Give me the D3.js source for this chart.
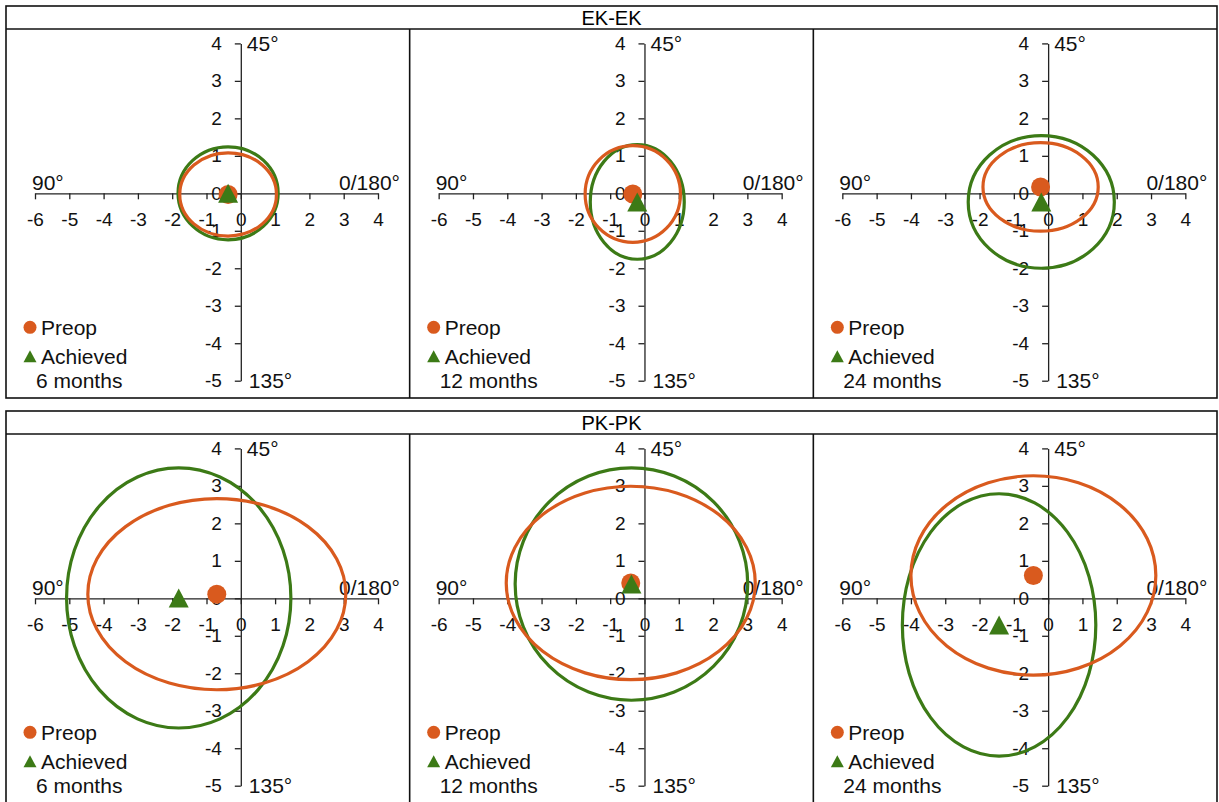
<!DOCTYPE html>
<html>
<head>
<meta charset="utf-8">
<script src="https://cdn.jsdelivr.net/npm/d3@7/dist/d3.min.js"></script>
<style>
  html, body { margin: 0; padding: 0; background: #fff; }
  svg { display: block; }
</style>
</head>
<body>
<svg id="chart" width="1219" height="802"></svg>
<script>
// Double-angle vector plots of astigmatism: centroid (x, y) and SD ellipse (rx, ry), in dioptres
const groups = ["EK-EK", "PK-PK"];
const periods = ["6 months", "12 months", "24 months"];
const seriesNames = ["Preop", "Achieved"];

const xTicks = [-6, -5, -4, -3, -2, -1, 0, 1, 2, 3, 4];
const yTicks = [4, 3, 2, 1, 0, -1, -2, -3, -4, -5];
const axisLabels = { left: "90°", right: "0/180°", top: "45°", bottom: "135°" };

// EK-EK, one entry per period
const ekPreopCentroid   = [[-0.37, -0.03], [-0.34, -0.02], [-0.22, 0.17]];
const ekPreopEllipse    = [[1.41, 1.11], [1.39, 1.29], [1.68, 1.18]];
const ekAchievedCentroid = [[-0.37, 0.00], [-0.21, -0.23], [-0.20, -0.23]];
const ekAchievedEllipse  = [[1.46, 1.24], [1.37, 1.53], [2.13, 1.77]];

// PK-PK, one entry per period
const pkPreopCentroid   = [[-0.70, 0.11], [-0.40, 0.41], [-0.43, 0.61]];
const pkPreopEllipse    = [[3.76, 2.55], [3.63, 2.58], [3.57, 2.66]];
const pkAchievedCentroid = [[-1.81, 0.01], [-0.38, 0.38], [-1.43, -0.71]];
const pkAchievedEllipse  = [[3.27, 3.47], [3.39, 3.10], [2.82, 3.50]];

const groupData = [
  { preopC: ekPreopCentroid, preopE: ekPreopEllipse, achC: ekAchievedCentroid, achE: ekAchievedEllipse },
  { preopC: pkPreopCentroid, preopE: pkPreopEllipse, achC: pkAchievedCentroid, achE: pkAchievedEllipse }
];

const ORANGE = "#D95A1E";
const GREEN = "#3C7A16";
const FONT = "'Liberation Sans', Arial, Helvetica, sans-serif";

const svg = d3.select("#chart");

const boxLeft = 6, boxRight = 1217;
const groupTop = [6, 411];
const groupHeight = 392;
const titleHeight = 23;
const cellW = (boxRight - boxLeft) / 3;

const triPath = (cx, cy, w, h) =>
  `M${cx},${cy - h / 2}L${cx + w / 2},${cy + h / 2}L${cx - w / 2},${cy + h / 2}Z`;

groups.forEach((gName, gi) => {
  const top = groupTop[gi];
  const innerTop = top + titleHeight;
  const bottom = top + groupHeight;
  const g = svg.append("g");

  // frame, title row and column dividers
  g.append("rect")
    .attr("x", boxLeft).attr("y", top)
    .attr("width", boxRight - boxLeft).attr("height", groupHeight)
    .attr("fill", "none").attr("stroke", "#111").attr("stroke-width", 1.6);
  g.append("line")
    .attr("x1", boxLeft).attr("x2", boxRight)
    .attr("y1", innerTop).attr("y2", innerTop)
    .attr("stroke", "#111").attr("stroke-width", 1.6);
  [1, 2].forEach(i => {
    g.append("line")
      .attr("x1", boxLeft + i * cellW).attr("x2", boxLeft + i * cellW)
      .attr("y1", innerTop).attr("y2", bottom)
      .attr("stroke", "#111").attr("stroke-width", 1.6);
  });
  g.append("text")
    .attr("x", (boxLeft + boxRight) / 2).attr("y", top + titleHeight / 2)
    .attr("dy", "0.35em")
    .attr("text-anchor", "middle")
    .attr("font-family", FONT).attr("font-size", 20)
    .text(gName);

  const d = groupData[gi];

  periods.forEach((period, pi) => {
    const cellX = boxLeft + pi * cellW;
    const x = d3.scaleLinear().domain([-6, 4]).range([cellX + 29, cellX + 372]);
    const y = d3.scaleLinear().domain([4, -5]).range([innerTop + 14.4, innerTop + 351.7]);
    const cell = g.append("g");

    // x axis through the origin
    const xAxis = cell.append("g")
      .attr("transform", `translate(0,${y(0)})`)
      .call(d3.axisBottom(x).tickValues(xTicks).tickFormat(d3.format("d"))
        .tickSize(6).tickSizeOuter(0).tickPadding(13));
    // y axis through the origin
    const yAxis = cell.append("g")
      .attr("transform", `translate(${x(0)},0)`)
      .call(d3.axisLeft(y).tickValues(yTicks).tickFormat(d3.format("d"))
        .tickSize(6).tickSizeOuter(0).tickPadding(13));
    [xAxis, yAxis].forEach(a => {
      a.selectAll("path, line").attr("stroke", "#222").attr("stroke-width", 1.3);
      a.selectAll("text")
        .attr("font-family", FONT).attr("font-size", 19).attr("fill", "#111");
    });
    xAxis.selectAll("text").text(v => String(v).replace("−", "-"));
    yAxis.selectAll("text").text(v => String(v).replace("−", "-"));

    // meridian labels
    const lab = (txt, px, py, anchor, dy) => cell.append("text")
      .attr("x", px).attr("y", py).attr("dy", dy)
      .attr("text-anchor", anchor)
      .attr("font-family", FONT).attr("font-size", 21).attr("fill", "#111")
      .text(txt);
    lab(axisLabels.left, x(-6) - 3, y(0) - 3, "start", 0);
    lab(axisLabels.right, x(4) + 22, y(0) - 3, "end", 0);
    lab(axisLabels.top, x(0) + 6, y(4), "start", "0.35em");
    lab(axisLabels.bottom, x(0) + 8, y(-5), "start", "0.35em");

    // SD ellipses
    const ellipse = (c, e, color) => cell.append("ellipse")
      .attr("cx", x(c[0])).attr("cy", y(c[1]))
      .attr("rx", x(e[0]) - x(0)).attr("ry", y(0) - y(e[1]))
      .attr("fill", "none").attr("stroke", color).attr("stroke-width", 3.2);
    ellipse(d.achC[pi], d.achE[pi], GREEN);
    ellipse(d.preopC[pi], d.preopE[pi], ORANGE);

    // centroids
    cell.append("circle")
      .attr("cx", x(d.preopC[pi][0])).attr("cy", y(d.preopC[pi][1]))
      .attr("r", 9.5).attr("fill", ORANGE);
    cell.append("path")
      .attr("d", triPath(x(d.achC[pi][0]), y(d.achC[pi][1]), 20, 19))
      .attr("fill", GREEN);

    // legend
    const ly = y(0);
    cell.append("circle")
      .attr("cx", cellX + 24).attr("cy", ly + 134).attr("r", 6.5).attr("fill", ORANGE);
    cell.append("path")
      .attr("d", triPath(cellX + 24, ly + 163, 13, 12)).attr("fill", GREEN);
    lab(seriesNames[0], cellX + 35, ly + 134, "start", "0.35em");
    lab(seriesNames[1], cellX + 35, ly + 163, "start", "0.35em");
    lab(period, cellX + 30, ly + 195, "start", 0);
  });
});
</script>
</body>
</html>
